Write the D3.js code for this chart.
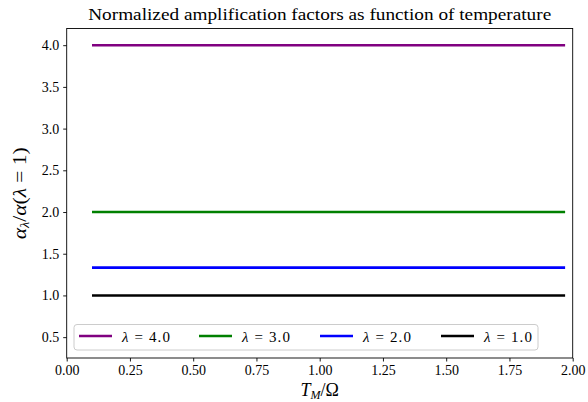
<!DOCTYPE html>
<html>
<head>
<meta charset="UTF-8">
<script src="https://d3js.org/d3.v7.min.js"></script>
<style>
    body { margin: 0; background: #fff; }
    svg text { font-family: "Liberation Serif", "DejaVu Serif", serif; fill: #000; }
</style>
</head>
<body>
<div id="chart"></div>
<script>
    // series: lambda values and normalized amplification factor (constant over T_M/Omega)
    const lambdas = ["4.0", "3.0", "2.0", "1.0"];
    const colors = ["#800080", "#008000", "#0000ff", "#000000"];
    const tempValues = [0.1, 0.5, 1.0, 1.5, 1.97];
    const series4 = [4.0, 4.0, 4.0, 4.0, 4.0];
    const series3 = [2.0, 2.0, 2.0, 2.0, 2.0];
    const series2 = [1.3333, 1.3333, 1.3333, 1.3333, 1.3333];
    const series1 = [1.0, 1.0, 1.0, 1.0, 1.0];
    const xTicks = [0, 0.25, 0.5, 0.75, 1.0, 1.25, 1.5, 1.75, 2.0];
    const yTicks = [0.5, 1.0, 1.5, 2.0, 2.5, 3.0, 3.5, 4.0];

    const allSeries = [series4, series3, series2, series1];

    const W = 588, H = 402;
    const m = { left: 66.7, right: 588 - 572.7, top: 28.5, bottom: 402 - 358 };

    const svg = d3.select("#chart").append("svg")
        .attr("width", W).attr("height", H);

    const x = d3.scaleLinear().domain([0, 2]).range([m.left, W - m.right]);
    const y = d3.scaleLinear().domain([0.25, 4.2]).range([H - m.bottom, m.top]);

    // lines
    const line = d3.line().x((d, i) => x(tempValues[i])).y(d => y(d));
    allSeries.forEach((s, k) => {
        svg.append("path")
            .datum(s)
            .attr("d", line)
            .attr("fill", "none")
            .attr("stroke", colors[k])
            .attr("stroke-width", 2.6);
    });

    // axes
    const xAxis = svg.append("g")
        .attr("transform", `translate(0,${H - m.bottom})`)
        .call(d3.axisBottom(x).tickValues(xTicks).tickFormat(d3.format(".2f")).tickSize(3.5).tickPadding(4));
    const yAxis = svg.append("g")
        .attr("transform", `translate(${m.left},0)`)
        .call(d3.axisLeft(y).tickValues(yTicks).tickFormat(d3.format(".1f")).tickSize(3.5).tickPadding(4));
    [xAxis, yAxis].forEach(a => {
        a.select(".domain").remove();
        a.selectAll("text").style("font-family", "Liberation Serif, serif").style("font-size", "14px");
        a.selectAll("line").attr("stroke", "#000").attr("stroke-width", 0.9);
    });

    // frame
    svg.append("rect")
        .attr("x", x(0)).attr("y", y(4.2))
        .attr("width", x(2) - x(0)).attr("height", y(0.25) - y(4.2))
        .attr("fill", "none").attr("stroke", "#000").attr("stroke-width", 0.9);

    // title
    svg.append("text")
        .attr("x", (x(0) + x(2)) / 2).attr("y", 20)
        .attr("text-anchor", "middle")
        .attr("textLength", 463).attr("lengthAdjust", "spacingAndGlyphs")
        .style("font-size", "16px")
        .text("Normalized amplification factors as function of temperature");

    // x label
    const xl = svg.append("text")
        .attr("x", (x(0) + x(2)) / 2).attr("y", 396)
        .attr("text-anchor", "middle")
        .style("font-size", "18px");
    xl.append("tspan").style("font-style", "italic").text("T");
    xl.append("tspan").style("font-style", "italic").style("font-size", "12px").attr("dy", 3).text("M");
    xl.append("tspan").attr("dy", -3).text("/Ω");

    // y label
    const yl = svg.append("text")
        .attr("transform", `translate(26,${(y(0.25) + y(4.2)) / 2}) rotate(-90)`)
        .attr("text-anchor", "middle")
        .attr("textLength", 92).attr("lengthAdjust", "spacingAndGlyphs")
        .style("font-size", "18px");
    yl.append("tspan").style("font-style", "italic").text("α");
    yl.append("tspan").style("font-style", "italic").style("font-size", "12px").attr("dy", 3).text("λ");
    yl.append("tspan").attr("dy", -3).text("/");
    yl.append("tspan").style("font-style", "italic").text("α");
    yl.append("tspan").text("(");
    yl.append("tspan").style("font-style", "italic").text("λ");
    yl.append("tspan").text(" = 1)");

    // legend
    const lg = svg.append("g");
    lg.append("rect")
        .attr("x", 74).attr("y", 324.5).attr("width", 464).attr("height", 25.5)
        .attr("rx", 3)
        .attr("fill", "#fff").attr("fill-opacity", 0.8)
        .attr("stroke", "#ccc").attr("stroke-width", 1);
    const entryX = [79, 199, 320, 441];
    lambdas.forEach((l, k) => {
        lg.append("line")
            .attr("x1", entryX[k]).attr("x2", entryX[k] + 33)
            .attr("y1", 336).attr("y2", 336)
            .attr("stroke", colors[k]).attr("stroke-width", 2.6);
        const t = lg.append("text")
            .attr("x", entryX[k] + 43).attr("y", 341.5)
            .attr("textLength", 48).attr("lengthAdjust", "spacing")
            .style("font-size", "15px");
        t.append("tspan").style("font-style", "italic").text("λ");
        t.append("tspan").text(" = " + l);
    });
</script>
</body>
</html>
